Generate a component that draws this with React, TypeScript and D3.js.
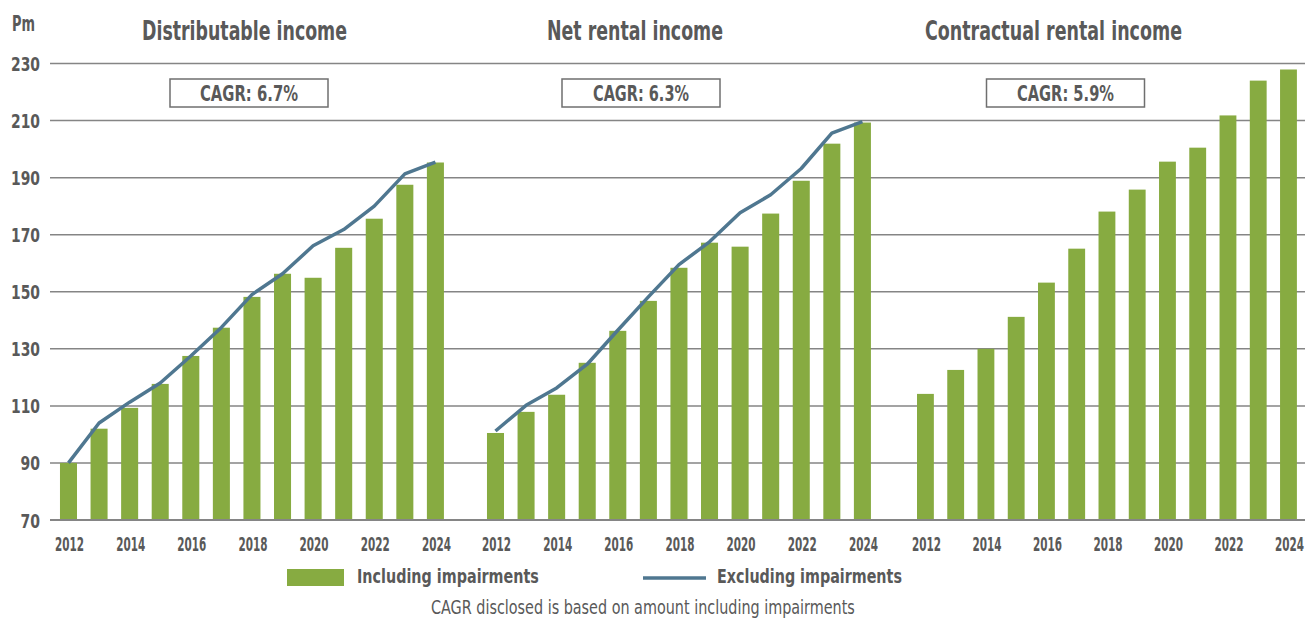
import React, { useLayoutEffect, useRef, useState } from "react";
import * as d3 from "d3";

const years = [2012, 2013, 2014, 2015, 2016, 2017, 2018, 2019, 2020, 2021, 2022, 2023, 2024];
const tickYears = [2012, 2014, 2016, 2018, 2020, 2022, 2024];
const yTicks = [70, 90, 110, 130, 150, 170, 190, 210, 230];

const panelTitles = ["Distributable income", "Net rental income", "Contractual rental income"];
const cagrLabels = ["CAGR: 6.7%", "CAGR: 6.3%", "CAGR: 5.9%"];

const distIncl = [90.0, 102.0, 109.3, 117.7, 127.5, 137.4, 148.2, 156.3, 154.9, 165.4, 175.6, 187.5, 195.3];
const distExcl = [90.0, 104.0, 111.3, 118.0, 127.5, 137.5, 149.0, 156.3, 166.1, 171.8, 180.0, 191.3, 195.4];
const netIncl = [100.5, 107.9, 113.9, 125.1, 136.3, 146.8, 158.4, 167.2, 165.8, 177.4, 188.9, 201.9, 209.3];
const netExcl = [101.2, 110.2, 116.3, 124.6, 136.5, 148.2, 159.5, 167.5, 177.7, 184.0, 193.2, 205.6, 209.6];
const contrIncl = [114.2, 122.6, 130.0, 141.2, 153.2, 165.1, 178.1, 185.8, 195.6, 200.5, 211.8, 224.0, 227.9];

const inclSeries = [distIncl, netIncl, contrIncl];
const exclSeries: (number[] | null)[] = [distExcl, netExcl, null];

const legendIncl = "Including impairments";
const legendExcl = "Excluding impairments";
const caption = "CAGR disclosed is based on amount including impairments";

const GREEN = "#87ab41";
const BLUE = "#4f7790";
const TEXT = "#595959";
const GRID = "#858585";
const FONT = "'DejaVu Sans', Verdana, sans-serif";

const W = 1313;
const H = 619;

const panelRanges: [number, number][] = [
  [53.2, 450.7],
  [480.2, 877.7],
  [910.3, 1303.6],
];
const titleCenters = [244.5, 635, 1053.5];
const boxCenters = [249, 641, 1065.5];
const titleWidths = [205, 176, 257];
const cagrWidths = [98, 96, 97];

type FitProps = {
  x: number;
  y: number;
  width: number;
  size: number;
  anchor?: "start" | "middle" | "end";
  bold?: boolean;
  children: string;
};

function FitText({ x, y, width, size, anchor = "start", bold = true, children }: FitProps) {
  const ref = useRef<SVGTextElement>(null);
  const [s, setS] = useState(0.6);
  useLayoutEffect(() => {
    const el = ref.current;
    if (!el) return;
    const n = el.getComputedTextLength();
    if (n > 0) {
      const ns = width / n;
      if (isFinite(ns) && Math.abs(ns - s) > 0.001) setS(ns);
    }
  }, [width, children, size]);
  return (
    <text
      ref={ref}
      transform={`translate(${x},${y}) scale(${s},1)`}
      textAnchor={anchor}
      fontFamily={FONT}
      fontWeight={bold ? "bold" : "normal"}
      fontSize={size}
      fill={TEXT}
    >
      {children}
    </text>
  );
}

export default function App() {
  const y = d3.scaleLinear().domain([70, 230]).range([520, 63.5]);
  const xs = panelRanges.map((r) =>
    d3.scaleBand<number>().domain(years).range(r).paddingInner(0.443).paddingOuter(0.2215)
  );
  const line = (x: d3.ScaleBand<number>) =>
    d3
      .line<number>()
      .x((_, i) => (x(years[i]) as number) + x.bandwidth() / 2)
      .y((d) => y(d));

  return (
    <svg width={W} height={H} style={{ display: "block", position: "absolute", left: 0, top: 0 }}>
      <rect width={W} height={H} fill="#fff" />
      {yTicks.map((t) => (
        <g key={t}>
          <line x1={50} x2={1305} y1={y(t)} y2={y(t)} stroke={GRID} strokeWidth={t === 70 ? 2 : 1.5} />
          <FitText x={40} y={y(t) + 7.5} anchor="end" size={20} width={String(t).length === 3 ? 29 : 19.5}>
            {String(t)}
          </FitText>
        </g>
      ))}
      <FitText x={12} y={31} size={21} width={23}>
        Pm
      </FitText>
      {xs.map((x, p) => (
        <g key={p}>
          <FitText x={titleCenters[p]} y={40} anchor="middle" size={27} width={titleWidths[p]}>
            {panelTitles[p]}
          </FitText>
          <rect x={boxCenters[p] - 79} y={79} width={158} height={28} fill="#fff" stroke="#6f6f6f" strokeWidth={1.5} />
          <FitText x={boxCenters[p]} y={101} anchor="middle" size={22} width={cagrWidths[p]}>
            {cagrLabels[p]}
          </FitText>
          {inclSeries[p].map((v, i) => (
            <rect
              key={i}
              x={x(years[i])}
              y={y(v)}
              width={x.bandwidth()}
              height={y(70) - y(v)}
              fill={GREEN}
            />
          ))}
          {exclSeries[p] && (
            <path
              d={line(x)(exclSeries[p] as number[]) || ""}
              fill="none"
              stroke={BLUE}
              strokeWidth={3.5}
              strokeLinejoin="round"
            />
          )}
          {tickYears.map((yr) => (
            <FitText
              key={yr}
              x={(x(yr) as number) + x.bandwidth() / 2 + 1}
              y={550.5}
              anchor="middle"
              size={20}
              width={29}
            >
              {String(yr)}
            </FitText>
          ))}
        </g>
      ))}
      <line x1={50} x2={1305} y1={y(70)} y2={y(70)} stroke={GRID} strokeWidth={2} />
      <rect x={287} y={569} width={57} height={17} fill={GREEN} />
      <FitText x={357} y={582.5} size={20} width={182}>
        {legendIncl}
      </FitText>
      <line x1={643} x2={706} y1={578} y2={578} stroke={BLUE} strokeWidth={3.5} />
      <FitText x={717} y={582.5} size={20} width={185}>
        {legendExcl}
      </FitText>
      <FitText x={431} y={614} size={20} width={424} bold={false}>
        {caption}
      </FitText>
    </svg>
  );
}
